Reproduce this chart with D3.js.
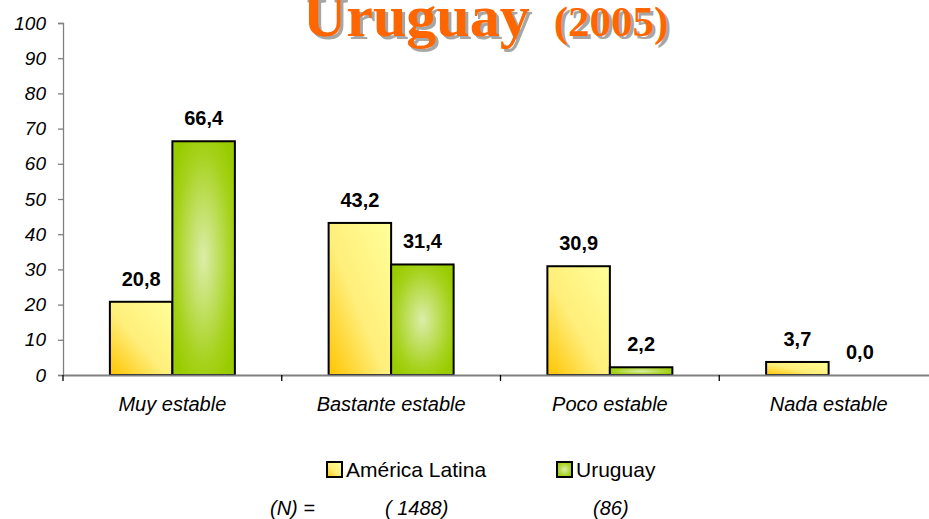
<!DOCTYPE html>
<html>
<head>
<meta charset="utf-8">
<script src="https://cdn.jsdelivr.net/npm/d3@7"></script>
<style>
body { margin: 0; background: #fff; }
svg { display: block; }
</style>
</head>
<body>
<svg id="canvas" width="929" height="519"></svg>
<script>
const categories = ["Muy estable", "Bastante estable", "Poco estable", "Nada estable"];
const series = ["América Latina", "Uruguay"];
const latamValues = [20.8, 43.2, 30.9, 3.7];
const uruguayValues = [66.4, 31.4, 2.2, 0.0];
const yTicks = [0, 10, 20, 30, 40, 50, 60, 70, 80, 90, 100];
const sampleSizes = ["( 1488)", "(86)"];

const svg = d3.select("#canvas");
const width = 929;
const height = 519;

const x = d3.scaleBand()
    .domain(categories)
    .range([63, 938])
    .padding(0);

const bw = x.bandwidth();
const x1 = d3.scaleBand()
    .domain(series)
    .range([bw * 0.2143, bw * 0.7857])
    .padding(0);

const y = d3.scaleLinear()
    .domain([0, 100])
    .range([375, 23]);

const fmt = v => v.toFixed(1).replace(".", ",");

// gradients
const defs = svg.append("defs");
const yel = defs.append("linearGradient")
    .attr("id", "gYellow")
    .attr("x1", 0).attr("y1", 1).attr("x2", 1).attr("y2", 0);
yel.append("stop").attr("offset", 0).attr("stop-color", "#ffc400");
yel.append("stop").attr("offset", 0.45).attr("stop-color", "#ffee7a");
yel.append("stop").attr("offset", 1).attr("stop-color", "#ffff99");

const grn = defs.append("radialGradient")
    .attr("id", "gGreen")
    .attr("cx", 0.5).attr("cy", 0.5).attr("r", 0.6);
grn.append("stop").attr("offset", 0).attr("stop-color", "#dcedaa");
grn.append("stop").attr("offset", 0.75).attr("stop-color", "#a6d21c");
grn.append("stop").attr("offset", 1).attr("stop-color", "#99cc00");

const fills = { "América Latina": "url(#gYellow)", "Uruguay": "url(#gGreen)" };

// title with shadow
function drawTitle(dx, dy, color) {
    const t = svg.append("text")
        .attr("x", 303 + dx)
        .attr("y", 36 + dy)
        .attr("fill", color)
        .attr("font-family", "'Liberation Serif', 'Times New Roman', serif")
        .attr("font-weight", "bold");
    t.append("tspan").attr("font-size", 60).text("Uruguay");
    t.append("tspan").attr("font-size", 43).attr("dx", 24).text("(2005)");
}
drawTitle(3, 3, "#a6a6a6");
drawTitle(0, 0, "#ff6600");

// y axis
const yAxis = svg.append("g")
    .attr("transform", "translate(63,0)")
    .call(d3.axisLeft(y).tickValues(yTicks).tickSize(5).tickPadding(12));
yAxis.select(".domain").attr("stroke", "#808080").attr("stroke-width", 1.3);
yAxis.selectAll(".tick line").attr("stroke", "#808080").attr("stroke-width", 1.3);
yAxis.selectAll(".tick text")
    .attr("font-family", "'Liberation Sans', Arial, sans-serif")
    .attr("font-style", "italic")
    .attr("font-size", 19)
    .attr("fill", "#000");

// bars
const rows = categories.map((c, i) => ({
    cat: c,
    vals: [
        { s: series[0], v: latamValues[i] },
        { s: series[1], v: uruguayValues[i] }
    ]
}));

const groups = svg.selectAll(".grp")
    .data(rows)
    .join("g")
    .attr("transform", d => `translate(${x(d.cat)},0)`);

groups.selectAll("rect")
    .data(d => d.vals)
    .join("rect")
    .attr("x", d => x1(d.s))
    .attr("width", x1.bandwidth())
    .attr("y", d => y(d.v))
    .attr("height", d => y(0) - y(d.v))
    .attr("fill", d => fills[d.s])
    .attr("stroke", "#000")
    .attr("stroke-width", 2);

groups.selectAll(".lbl")
    .data(d => d.vals)
    .join("text")
    .attr("x", d => x1(d.s) + x1.bandwidth() / 2)
    .attr("y", d => y(d.v) - 16)
    .attr("text-anchor", "middle")
    .attr("font-family", "'Liberation Sans', Arial, sans-serif")
    .attr("font-weight", "bold")
    .attr("font-size", 20)
    .text(d => fmt(d.v));

// x axis
const xAxis = svg.append("g")
    .attr("transform", `translate(0,${y(0)})`)
    .call(d3.axisBottom(x).tickSize(0).tickPadding(22));
xAxis.select(".domain").attr("stroke", "#808080").attr("stroke-width", 2);
xAxis.selectAll(".tick text")
    .attr("font-family", "'Liberation Sans', Arial, sans-serif")
    .attr("font-style", "italic")
    .attr("font-size", 20)
    .attr("fill", "#000");

const bounds = categories.map(c => x(c)).concat([x(categories[categories.length - 1]) + bw]);
xAxis.selectAll(".bnd")
    .data(bounds)
    .join("line")
    .attr("x1", d => d).attr("x2", d => d)
    .attr("y1", 0).attr("y2", 6)
    .attr("stroke", "#000")
    .attr("stroke-width", 1.3);

// legend
const legendX = [327, 557];
const legend = svg.selectAll(".leg")
    .data(series)
    .join("g")
    .attr("transform", (d, i) => `translate(${legendX[i]},462)`);
legend.append("rect")
    .attr("width", 15).attr("height", 15)
    .attr("fill", d => fills[d])
    .attr("stroke", "#000")
    .attr("stroke-width", 2);
legend.append("text")
    .attr("x", 19)
    .attr("y", 15)
    .attr("font-family", "'Liberation Sans', Arial, sans-serif")
    .attr("font-size", 21)
    .text(d => d);

// sample sizes
const nRow = svg.append("g")
    .attr("font-family", "'Liberation Sans', Arial, sans-serif")
    .attr("font-style", "italic")
    .attr("font-size", 20);
nRow.append("text").attr("x", 270).attr("y", 515).text("(N) =");
nRow.selectAll(".n")
    .data(sampleSizes)
    .join("text")
    .attr("x", (d, i) => [385, 593][i])
    .attr("y", 515)
    .text(d => d);
</script>
</body>
</html>
